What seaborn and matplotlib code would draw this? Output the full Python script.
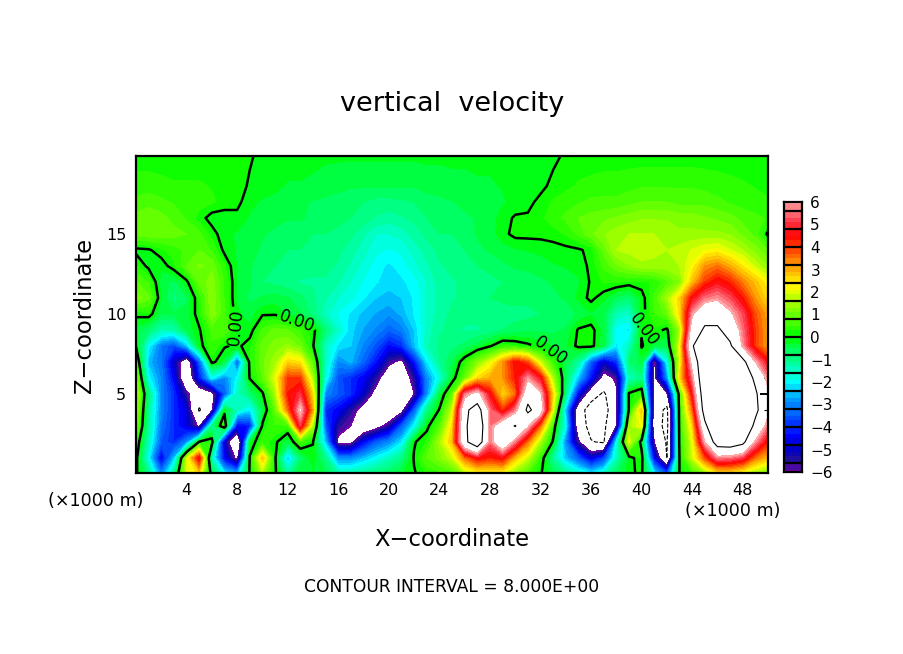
import numpy as np
import matplotlib
matplotlib.use("Agg")
import matplotlib.pyplot as plt
from matplotlib.colors import BoundaryNorm, LinearSegmentedColormap
import seaborn as sns

# vertical velocity, one row per height, x = 0..50 km
x_km = list(range(51))
z_km = [0, 1, 2, 3, 4, 5, 6, 7, 8, 9, 10, 11, 12, 13, 14, 15, 16, 17, 18, 20]

w_z00 = [.1,-1,-3,-1,2,2.5,-.3,-2,-2.5,.1, 1.5,.1,-1.2,-.2,-.3,-.5,-1.2,-1.2,-1,-.8, -.6,-.3,-.05,.3,.4,.6,1.5,2,2,2, 1.2,.6,.05,-.5,-1,-1.5,-2,-1.5,-.6,-.1, .1,-2,-3.5,.02,.5,1.2,2.2,2.2,1.8,1.3,1]
w_z01 = [.2,-2,-4.6,-2.5,1.8,4.6,-1.5,-4.5,-6.3,.05, 2.8,.1,-2.5,-.8,-.1,-1,-3,-3,-2.5,-2, -1.5,-1,.05,.8,1.2,1.8,3.5,4.5,4.2,4.5, 2.8,1.8,.4,-1.2,-2.5,-3.5,-4.8,-3.8,-1.5,-.2, .3,-4.5,-8,.05,1.8,3.8,5.6,5.5,5,3.5,2.8]
w_z02 = [.5,-1.5,-3.5,-4,-3,.1,.3,-5,-7.9,-.3, .4,.1,-.5,.6,.02,-2.5,-6.3,-6.3,-4.5,-3.5, -3,-2.2,-.05,.3,1.5,2.8,7.5,9.5,5.5,7.5, 5.5,3.5,1.5,-.1,-3,-5.8,-7.9,-8.2,-2,2, -.3,-6,-8.2,.2,2,6,9,9.2,8.5,5.8,4.2]
w_z03 = [1.2,-1.2,-3.2,-4,-4.8,-6.2,-1,.6,-4.5,-4.2, .1,.5,.4,5,1.5,-3.5,-5.5,-6,-7.2,-6.5, -5.5,-3.5,-2,-.15,.7,2.5,7.5,10,5.5,7, 8.1,6.2,3.5,.4,-2,-7,-8.6,-8.4,-6,1.5, 2.2,-7,-8.6,.3,2.5,7.5,10.5,11.5,10,7.5,5.5]
w_z04 = [1.6,-1.2,-3,-4,-4.8,-8.2,-6.2,-.2,-1.5,-2.2, -.5,.9,3.5,6.3,3,-4,-4.5,-5.5,-6.5,-7.5, -7.5,-6.5,-3.5,-1,.05,1.8,7.5,9,5.5,4, 5.5,8.4,7,2,-2.5,-7,-9,-9,-6.2,.1, 2.8,-6.8,-8.5,.4,3.5,9,12,13,12,8.5,6.3]
w_z05 = [1.8,-.9,-3,-4,-5.7,-7.2,-6.5,-3.5,-1.5,-.8, -.1,1.5,4.3,5,2.5,-3,-3.5,-4,-5,-6.5, -7.5,-7.5,-6,-3,-.5,.8,5.5,6.5,4.5,2.5, 3.5,7.3,6.2,2.5,-1,-4.5,-7,-8.3,-6.2,.1, .5,-6.5,-6.2,.5,4.5,9.5,12,13,12,8.3,6.2]
w_z06 = [1.5,-2,-3,-4.5,-7.5,-4.2,-2,-3,-2,.05, .8,2,4,4,1.5,-1.8,-3.6,-4,-4.5,-5.5, -7,-7,-5.5,-3,-1.8,-.3,.9,2.5,3,3.2, 4.3,5.8,4.6,1.5,-.6,-2.5,-4.3,-6.5,-5.8,-1.5, -1,-6.3,-3,2.5,5.5,10,11,11,9.5,7.6,5.6]
w_z07 = [.8,-2.5,-3.2,-5,-7,-3.5,.15,-.4,-3.5,.2, 1,1.5,2.6,2.4,.8,-1.5,-3,-2.6,-3.4,-4.3, -5.7,-6.3,-4.3,-2.2,-1.1,-.5,.3,1.2,2,3.2, 4.5,3.8,1.8,.5,-.5,-1.2,-3.5,-5,-4,-.8, -.4,-6.2,-2,2,6.5,10,9.8,9.5,8.6,6,4.5]
w_z08 = [-.05,-2,-3.2,-3.7,-2.5,-.2,.5,.05,-.1,.2, .9,1.2,1.4,1,.05,-1.5,-2.2,-2.4,-3,-3.6, -4.4,-4,-2.5,-1.4,-1,-.9,-.7,-.4,-.05,.4, .3,.1,-.1,-.3,-.3,.1,.15,-.5,-2.2,-1.5, .05,-.4,-.5,2,7.9,9,9,8.3,5.8,4,3]
w_z09 = [-.4,-.8,-1.4,-1.3,-.5,-.05,.6,.8,-.05,-.2, .6,.9,.8,.5,.15,-.8,-1.6,-2.3,-2.7,-3, -3.4,-3.1,-2.4,-1.5,-1.1,-1,-1.1,-1.1,-1,-.8, -.7,-.6,-.6,-.6,-.5,.05,.15,-.4,-2,-2.2, -.05,.2,-.1,1.4,6.8,8.3,8.3,7.2,5.5,4,3]
w_z10 = [.1,.2,-.5,-.5,-.4,.2,1.3,.6,-.2,-.4, -.05,-.05,-.3,-.5,-.9,-1.5,-1.9,-2.2,-2.5,-2.7, -2.9,-2.6,-2.1,-1.6,-1.2,-1,-1,-1,-1,-1, -.9,-.9,-.8,-.8,-.7,-.5,-.3,-.5,-1.4,-1.6, -.2,.5,.9,2.5,5.8,7.2,7.2,6.2,5.2,3.8,3]
w_z11 = [1.2,.9,-.3,-.9,-.6,.3,1.3,.5,-.3,-.6, -.5,-.4,-.5,-.7,-1,-1.3,-1.6,-1.8,-2.1,-2.4, -2.5,-2.4,-2.1,-1.6,-1.2,-1.1,-1,-.9,-.8,-.7, -.7,-.7,-.6,-.6,-.5,-.2,.1,-.2,-.6,-.8, -.2,.6,1.5,2.6,4.5,5.5,5.8,5.2,4.3,3.2,2.5]
w_z12 = [.8,.5,-.4,-.6,-.1,.9,1.2,.5,-.3,-.5, -.8,-.9,-1,-1.1,-1.1,-1.1,-1.3,-1.6,-1.9,-2.1, -2.3,-2.2,-2,-1.6,-1.2,-1.1,-1,-1,-.9,-.8, -.7,-.6,-.6,-.5,-.4,-.3,.05,.3,.3,.2, .2,.3,.7,1.2,2.8,4,4.6,4.2,3.4,2.8,2.2]
w_z13 = [.3,-.1,-.2,.2,.8,1.1,1,.3,-.3,-.5, -.7,-.8,-.9,-.9,-1,-1,-1.1,-1.4,-1.7,-2, -2.2,-2,-1.7,-1.4,-1.1,-1,-.9,-.8,-.7,-.6, -.5,-.5,-.4,-.3,-.25,-.2,.1,.6,1,1.3, 1.5,1.5,1.5,1.6,2.2,3.2,3.5,3,2.4,1.8,1.3]
w_z14 = [-.1,-.05,.2,.4,.6,.8,.5,-.1,-.3,-.4, -.6,-.7,-.8,-.8,-.9,-.9,-1,-1.2,-1.5,-1.8, -1.9,-1.8,-1.5,-1.2,-1,-.9,-.8,-.6,-.5,-.4, -.3,-.25,-.2,-.15,-.1,-.05,.1,.9,1.6,1.7, 1.8,1.7,1.6,1.7,1.9,2.1,2.2,1.9,1.6,1.2,.8]
w_z15 = [.9,1,1,.9,.8,.6,.15,-.2,-.3,-.4, -.5,-.6,-.7,-.7,-.8,-.8,-.9,-1,-1.3,-1.6, -1.6,-1.5,-1.2,-1,-.8,-.8,-.7,-.5,-.4,-.1, .1,.1,.1,.15,.3,.6,1,1.3,1.5,1.6, 1.6,1.6,1.5,1.4,1.4,1.4,1.4,1.3,1,.7,-.1]
w_z16 = [.9,1,.9,.7,.5,.15,-.15,-.2,-.1,-.3, -.4,-.45,-.5,-.5,-.6,-.6,-.7,-.8,-.9,-1.1, -1.2,-1.1,-1,-.8,-.7,-.7,-.6,-.5,-.4,-.15, .05,.05,.2,.4,.6,.8,.9,1,1.1,1.2, 1.3,1.3,1.3,1.2,1.2,1.1,1,.9,.7,.6,.5]
w_z17 = [.6,.7,.6,.5,.45,.4,.3,.2,.1,-.2, -.3,-.35,-.4,-.5,-.55,-.6,-.65,-.7,-.8,-.9, -.9,-.85,-.8,-.7,-.6,-.55,-.45,-.4,-.35,-.3, -.2,-.1,.1,.3,.4,.5,.6,.6,.6,.7, .8,.8,.8,.7,.7,.7,.6,.5,.4,.35,.3]
w_z18 = [.4,.4,.35,.3,.3,.3,.25,.2,.15,-.05, -.15,-.2,-.3,-.3,-.35,-.4,-.45,-.5,-.5,-.5, -.5,-.5,-.5,-.4,-.4,-.35,-.35,-.3,-.3,-.25, -.2,-.15,-.1,.1,.2,.3,.35,.4,.4,.45, .5,.5,.5,.5,.5,.45,.4,.35,.3,.25,.2]
w_z20 = [.1,.1,.1,.1,.1,.1,.1,.1,.1,.05, -.1,-.1,-.1,-.1,-.15,-.2,-.2,-.2,-.2,-.2, -.2,-.2,-.2,-.2,-.2,-.2,-.2,-.2,-.2,-.2, -.2,-.15,-.15,-.1,.05,.1,.1,.1,.1,.1, .1,.1,.1,.1,.1,.1,.1,.1,.1,.1,.1]

w = np.array([w_z00, w_z01, w_z02, w_z03, w_z04, w_z05, w_z06, w_z07, w_z08, w_z09,
              w_z10, w_z11, w_z12, w_z13, w_z14, w_z15, w_z16, w_z17, w_z18, w_z20])

x_ticks = [4, 8, 12, 16, 20, 24, 28, 32, 36, 40, 44, 48]
z_ticks = [5, 10, 15]
bar_ticks = [6, 5, 4, 3, 2, 1, 0, -1, -2, -3, -4, -5, -6]
label_spots = [(8.0, 9.2), (12.7, 9.5), (32.6, 7.3), (40.1, 9.0)]

sns.set_theme(style="white")
plt.rcParams["font.family"] = ["DejaVu Sans"]

# colours along the bar, three shades in each 0.8 box
anchors = [(-6, "#7a00a8"), (-5.5, "#20109c"), (-5, "#0000c0"), (-4.4, "#0000ff"),
           (-3.5, "#0058ff"), (-2.8, "#0098ff"), (-2, "#00ffff"), (-1.2, "#00ffa0"),
           (-.5, "#00ff50"), (0, "#00ff00"), (.6, "#40ff00"), (1.5, "#a0ff00"),
           (2.2, "#ffff00"), (3, "#ffb000"), (3.8, "#ff5000"), (4.5, "#ff0000"),
           (5.2, "#ff4050"), (6, "#ffa8a8")]
cmap = LinearSegmentedColormap.from_list(
    "wvel", [((v + 6) / 12, c) for v, c in anchors], N=46)
levels = [-6] + [k * .8 / 3 for k in range(-22, 23)] + [6]
norm = BoundaryNorm(levels, cmap.N)

W, H = 904, 654
fig = plt.figure(figsize=(W / 100, H / 100), dpi=100, facecolor="white")
ax = fig.add_axes([136 / W, 1 - 473 / H, 632 / W, 317 / H])

ax.contourf(x_km, z_km, w, levels=levels, cmap=cmap, norm=norm)
zero = ax.contour(x_km, z_km, w, levels=[0], colors="black", linewidths=1.8)
ax.contour(x_km, z_km, w, levels=[-8], colors="black", linewidths=.8, linestyles="--")
ax.contour(x_km, z_km, w, levels=[8], colors="black", linewidths=.8, linestyles="-")
ax.clabel(zero, fmt="%.2f", fontsize=12, manual=label_spots, inline=True, inline_spacing=2)

ax.set_xlim(0, 50)
ax.set_ylim(.06, 19.875)
ax.set_xticks(x_ticks)
ax.set_xticks(range(2, 50, 4), minor=True)
ax.set_yticks(z_ticks)
ax.set_yticks(range(1, 20), minor=True)
ax.tick_params(which="major", direction="in", length=6, width=1.4, top=True, right=True,
               bottom=True, left=True, labelsize=11.5, pad=7, color="black", labelcolor="black")
ax.tick_params(which="minor", direction="in", length=3, width=.8, top=True, right=True,
               bottom=True, left=True, color="black")
for side in ax.spines.values():
    side.set_visible(True)
    side.set_color("black")
    side.set_linewidth(1.6)

# colour bar as a one column heatmap, cells of 0.1
bar_vals = np.arange(5.95, -6, -.1).reshape(-1, 1)
cax = fig.add_axes([784 / W, 1 - 472 / H, 18 / W, 270 / H])
sns.heatmap(bar_vals, ax=cax, cmap=cmap, norm=norm, cbar=False, xticklabels=False, yticklabels=False)
for k in range(-7, 8):
    cax.axhline((6 - k * .8) * 10, color="black", lw=1.6)
cax.set_yticks([(6 - t) * 10 for t in bar_ticks])
cax.set_yticklabels([str(t).replace("-", "\u2212") for t in bar_ticks], fontsize=11)
cax.yaxis.tick_right()
cax.tick_params(axis="y", length=0, pad=6, labelrotation=0, colors="black")
for side in cax.spines.values():
    side.set_visible(True)
    side.set_color("black")
    side.set_linewidth(1.6)


def put(px, py, s, **kw):
    fig.text(px / W, 1 - py / H, s, ha="center", va="center", color="black", **kw)


put(452, 104, "vertical  velocity", fontsize=19.5)
put(452, 539, "X\u2212coordinate", fontsize=16.3)
put(84, 315, "Z\u2212coordinate", fontsize=16.3, rotation=90)
put(96, 501, "(\u00d71000 m)", fontsize=12.6)
put(733, 511, "(\u00d71000 m)", fontsize=12.6)
put(452, 587, "CONTOUR INTERVAL = 8.000E+00", fontsize=12.3)

fig.savefig("out.png", dpi=100)
